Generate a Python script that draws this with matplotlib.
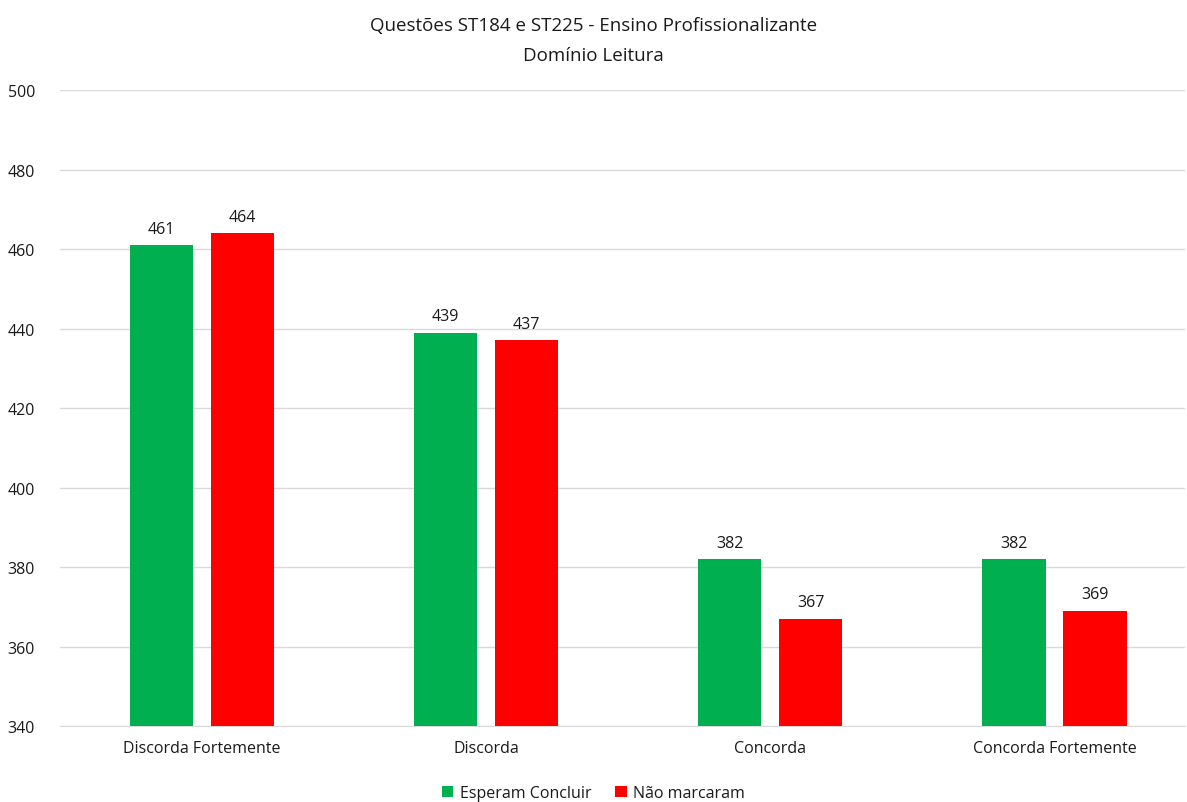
import numpy as np
import matplotlib.pyplot as plt

plt.rcParams['font.family'] = ['Open Sans', 'DejaVu Sans']

categorias = ['Discorda Fortemente', 'Discorda', 'Concorda', 'Concorda Fortemente']
esperam = [461, 439, 382, 382]
nao_marcaram = [464, 437, 367, 369]
series = ['Esperam Concluir', 'Não marcaram']

fig = plt.figure(figsize=(11.87, 8.03), dpi=100)
ax = fig.add_axes([0.0505, 0.0946, 0.948, 0.792])

x = np.arange(len(categorias))
w = 0.222
off = 0.1425
b1 = ax.bar(x - off, esperam, w, color='#00b050', label=series[0], zorder=3)
b2 = ax.bar(x + off, nao_marcaram, w, color='#ff0000', label=series[1], zorder=3)
for bars in (b1, b2):
    for b in bars:
        ax.annotate(f'{b.get_height():.0f}', (b.get_x() + b.get_width() / 2, b.get_height()),
                    xytext=(0, 6), textcoords='offset points', ha='center', va='bottom',
                    fontsize=11.5, color='#1a1a1a')

ax.set_ylim(340, 500)
ax.set_yticks(range(340, 501, 20))
ax.set_xlim(-0.5, 3.46)
ax.set_xticks(x)
ax.set_xticklabels(categorias)
ax.grid(axis='y', color='#d9d9d9', linewidth=1, zorder=0)
for s in ['top', 'right', 'left']:
    ax.spines[s].set_visible(False)
ax.spines['bottom'].set_color('#d9d9d9')
ax.tick_params(axis='both', length=0, labelsize=11.5, labelcolor='#1a1a1a')
ax.tick_params(axis='y', pad=18)
ax.tick_params(axis='x', pad=10)

fig.text(0.5, 0.968, 'Questões ST184 e ST225 - Ensino Profissionalizante', ha='center', va='center',
         fontsize=13.5, color='#1a1a1a')
fig.text(0.5, 0.93, 'Domínio Leitura', ha='center', va='center', fontsize=13.5, color='#1a1a1a')

fig.legend(loc='center', bbox_to_anchor=(0.5, 0.011), ncol=2, frameon=False, fontsize=11.5,
           handlelength=0.7, handleheight=0.7, handletextpad=0.4, columnspacing=1.5,
           labelcolor='#1a1a1a')

fig.savefig('out.png', dpi=100)
